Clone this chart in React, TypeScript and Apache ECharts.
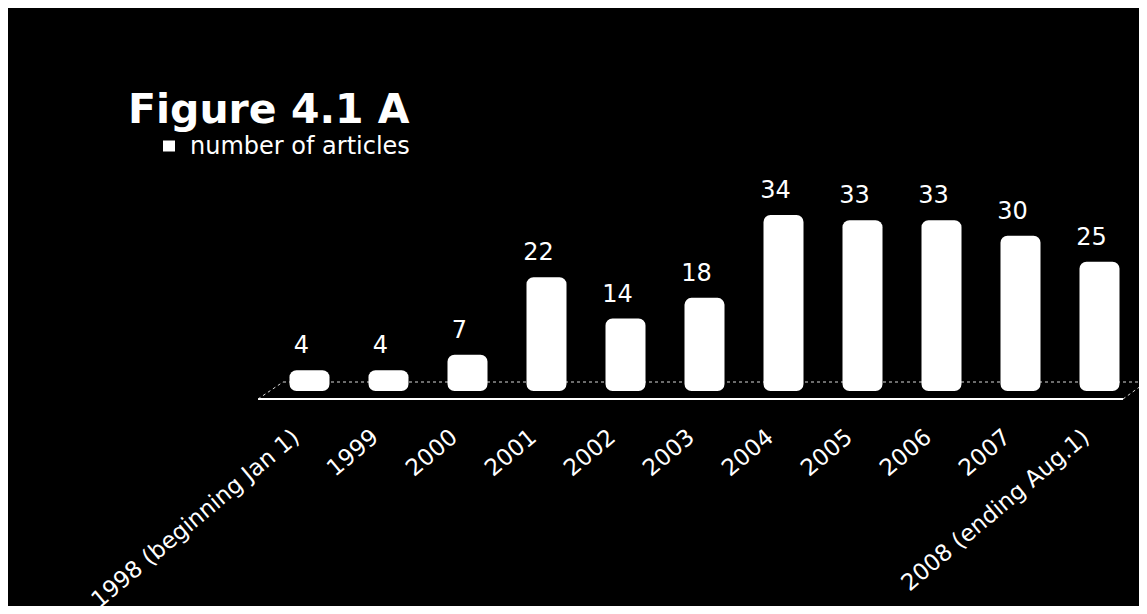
import React, { useEffect, useRef } from "react";
import * as echarts from "echarts";

// Publications per year
const categories = [
  "1998 (beginning Jan 1)",
  "1999",
  "2000",
  "2001",
  "2002",
  "2003",
  "2004",
  "2005",
  "2006",
  "2007",
  "2008 (ending Aug.1)",
];
const articleCounts = [4, 4, 7, 22, 14, 18, 34, 33, 33, 30, 25];
const seriesName = "number of articles";
const chartTitle = "Figure 4.1 A";

const WIDTH = 1139;
const HEIGHT = 606;
const GRID = { left: 262, right: 8, top: 176, bottom: 223 };
const Y_MAX = 40;
const FONT = "'DejaVu Sans', 'Open Sans', sans-serif";

// Perspective floor drawn under the bars, derived from the grid box
function floorGraphics() {
  const zeroY = HEIGHT - GRID.bottom;
  const gridRight = WIDTH - GRID.right;
  const frontY = zeroY + 8;
  const backY = zeroY - 9;
  const frontLeft = GRID.left - 12;
  const backLeft = GRID.left + 13;
  const frontRight = gridRight - 16;
  const backRight = WIDTH;
  const dashed = { stroke: "#d8d8d8", lineWidth: 1, lineDash: [3, 3] };
  return [
    {
      type: "line",
      z: -10,
      shape: { x1: frontLeft, y1: frontY, x2: frontRight, y2: frontY },
      style: { stroke: "#ffffff", lineWidth: 2 },
    },
    {
      type: "line",
      z: -10,
      shape: { x1: backLeft, y1: backY, x2: backRight, y2: backY },
      style: dashed,
    },
    {
      type: "line",
      z: -10,
      shape: { x1: frontLeft, y1: frontY, x2: backLeft, y2: backY },
      style: dashed,
    },
    {
      type: "line",
      z: -10,
      shape: { x1: frontRight, y1: frontY, x2: backRight - 2, y2: backY + 1 },
      style: dashed,
    },
  ];
}

export default function App() {
  const ref = useRef<HTMLDivElement>(null);

  useEffect(() => {
    document.documentElement.style.overflow = "hidden";
    document.body.style.overflow = "hidden";
    const chart = echarts.init(ref.current!, undefined, { renderer: "svg" });
    chart.setOption({
      animation: false,
      backgroundColor: "#000000",
      title: {
        text: chartTitle,
        left: 120,
        top: 80,
        padding: 0,
        textStyle: {
          color: "#ffffff",
          fontSize: 41,
          fontWeight: "bold",
          fontFamily: FONT,
        },
      },
      legend: {
        left: 155,
        top: 126,
        padding: 0,
        icon: "rect",
        itemWidth: 12,
        itemHeight: 11,
        data: [seriesName],
        textStyle: {
          color: "#ffffff",
          fontSize: 24,
          fontFamily: FONT,
          padding: [0, 0, 0, 10],
        },
      },
      grid: { ...GRID, containLabel: false, outerBoundsMode: "none" },
      xAxis: {
        type: "category",
        data: categories,
        axisLine: { show: false },
        axisTick: { show: false },
        axisLabel: {
          interval: 0,
          rotate: 40,
          margin: 31,
          padding: [0, 18, 0, 0],
          color: "#ffffff",
          fontSize: 23,
          fontFamily: FONT,
        },
      },
      yAxis: {
        type: "value",
        min: 0,
        max: Y_MAX,
        show: false,
        splitLine: { show: false },
      },
      series: [
        {
          name: seriesName,
          type: "bar",
          data: articleCounts,
          barWidth: 40,
          itemStyle: { color: "#ffffff", borderRadius: 7 },
          label: {
            show: true,
            position: "top",
            distance: 13,
            offset: [-8, 0],
            color: "#ffffff",
            fontSize: 24,
            fontFamily: FONT,
          },
        },
      ],
      graphic: floorGraphics(),
    });
    return () => chart.dispose();
  }, []);

  return (
    <div
      ref={ref}
      style={{ width: WIDTH, height: HEIGHT, marginBottom: -8, background: "#000" }}
    />
  );
}
